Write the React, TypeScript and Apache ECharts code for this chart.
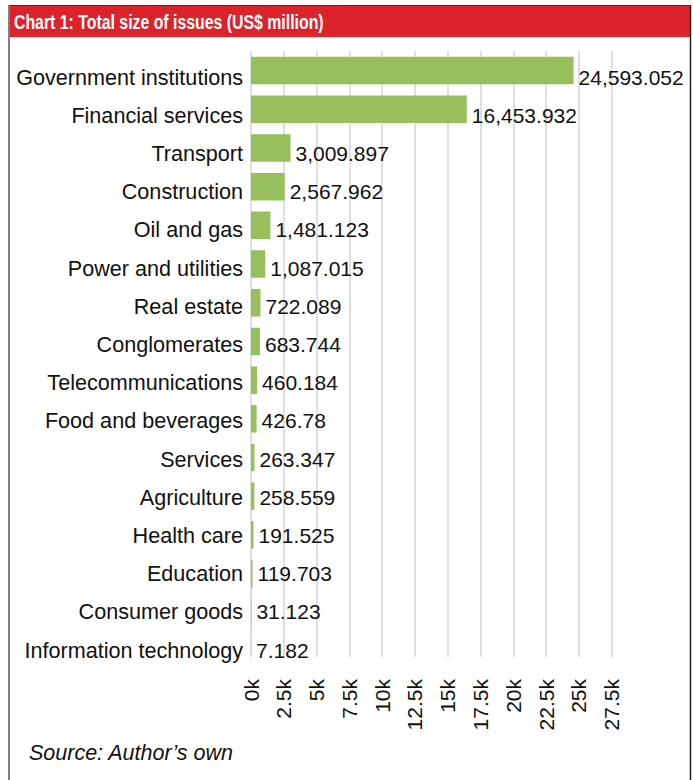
import React, { useEffect, useRef } from "react";
import * as echarts from "echarts";

const categories = [
  "Government institutions",
  "Financial services",
  "Transport",
  "Construction",
  "Oil and gas",
  "Power and utilities",
  "Real estate",
  "Conglomerates",
  "Telecommunications",
  "Food and beverages",
  "Services",
  "Agriculture",
  "Health care",
  "Education",
  "Consumer goods",
  "Information technology",
];

const values = [
  24593.052, 16453.932, 3009.897, 2567.962, 1481.123, 1087.015, 722.089,
  683.744, 460.184, 426.78, 263.347, 258.559, 191.525, 119.703, 31.123, 7.182,
];

const axisMax = 27500;
const axisStep = 2500;

const titleText = "Chart 1: Total size of issues (US$ million)";
const sourceText = "Source: Author\u2019s own";

const FONT = "'Liberation Sans', Arial, Helvetica, sans-serif";

export default function App() {
  const ref = useRef<HTMLDivElement>(null);

  useEffect(() => {
    document.body.style.margin = "0";
    if (!ref.current) return;
    const chart = echarts.init(ref.current, undefined, { renderer: "svg" });
    const fmt = (v: number) =>
      v.toLocaleString("en-US", { maximumFractionDigits: 3 });

    const left = 251;
    const right = 693 - 611.7;

    const hiddenX = (gridIndex: number) => ({
      type: "value",
      gridIndex,
      min: 0,
      max: axisMax,
      interval: axisStep,
      show: false,
    });
    const hiddenY = (gridIndex: number) => ({
      type: "category",
      gridIndex,
      data: categories,
      inverse: true,
      show: false,
    });

    chart.setOption({
      animation: false,
      backgroundColor: "#ffffff",
      textStyle: { fontFamily: FONT },
      grid: [
        // gridlines + value axis labels
        { left, right, top: 51, bottom: 780 - 657 },
        // bars
        { left, right, top: 51.2, bottom: 780 - 670.4 },
        // category labels + value labels
        { left, right, top: 57.9, bottom: 780 - 669.1 },
      ],
      xAxis: [
        {
          type: "value",
          gridIndex: 0,
          min: 0,
          max: axisMax,
          interval: axisStep,
          axisLine: { show: false },
          axisTick: { show: false },
          splitLine: { show: true, lineStyle: { color: "#d4d4d4", width: 1.5 } },
          axisLabel: {
            rotate: 90,
            margin: 22,
            fontSize: 21,
            color: "#111111",
            fontFamily: FONT,
            formatter: (v: number) => `${v / 1000}k`,
          },
        },
        hiddenX(1),
        hiddenX(2),
      ],
      yAxis: [
        hiddenY(0),
        hiddenY(1),
        {
          type: "category",
          gridIndex: 2,
          data: categories,
          inverse: true,
          axisLine: { show: false },
          axisTick: { show: false },
          splitLine: { show: false },
          axisLabel: {
            margin: 8,
            fontSize: 21.6,
            color: "#111111",
            fontFamily: FONT,
          },
        },
      ],
      series: [
        {
          type: "bar",
          xAxisIndex: 1,
          yAxisIndex: 1,
          data: values,
          barCategoryGap: "29%",
          itemStyle: { color: "#97bf5b" },
          label: { show: false },
        },
        {
          type: "bar",
          xAxisIndex: 2,
          yAxisIndex: 2,
          data: values,
          barCategoryGap: "29%",
          silent: true,
          itemStyle: { color: "rgba(0,0,0,0)" },
          label: {
            show: true,
            position: "right",
            distance: 5,
            fontSize: 21,
            color: "#111111",
            fontFamily: FONT,
            formatter: (p: any) => fmt(p.value),
          },
        },
      ],
      graphic: [
        {
          type: "rect",
          shape: { x: 8, y: 5, width: 682, height: 32 },
          style: { fill: "#dc222a" },
          z: 10,
        },
        {
          type: "line",
          shape: { x1: 8, y1: 5.5, x2: 691, y2: 5.5 },
          style: { stroke: "#333333", lineWidth: 1 },
          z: 11,
        },
        {
          type: "line",
          shape: { x1: 9, y1: 5, x2: 9, y2: 780 },
          style: { stroke: "#808080", lineWidth: 2 },
          z: 11,
        },
        {
          type: "line",
          shape: { x1: 690.5, y1: 5, x2: 690.5, y2: 780 },
          style: { stroke: "#222222", lineWidth: 1.5 },
          z: 11,
        },
        {
          type: "text",
          x: 14,
          y: 21.5,
          scaleX: 0.755,
          style: {
            text: titleText,
            fill: "#ffffff",
            font: `bold 21px ${FONT}`,
            verticalAlign: "middle",
          },
          z: 12,
        },
        {
          type: "text",
          x: 29,
          y: 753,
          style: {
            text: sourceText,
            fill: "#111111",
            font: `italic 21.5px ${FONT}`,
            verticalAlign: "middle",
          },
          z: 12,
        },
      ],
    });

    return () => chart.dispose();
  }, []);

  return <div ref={ref} style={{ width: 693, height: 780 }} />;
}
